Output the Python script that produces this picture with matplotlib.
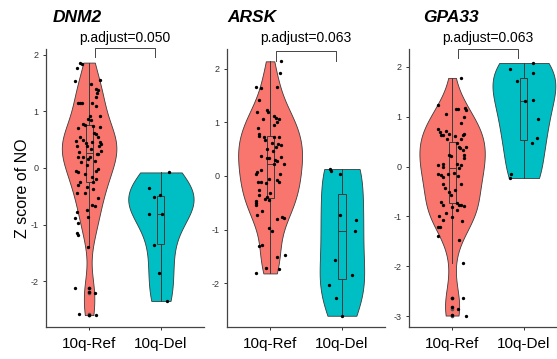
import numpy as np
import matplotlib
matplotlib.use("Agg")
import matplotlib.pyplot as plt

plt.rcParams["font.family"] = ["Liberation Sans", "DejaVu Sans"]
plt.rcParams["axes.unicode_minus"] = False

# ---------------------------------------------------------------------------
# Data
# ---------------------------------------------------------------------------

GENES = ["DNM2", "ARSK", "GPA33"]
GROUPS = ["10q-Ref", "10q-Del"]
P_ADJUST = ["0.050", "0.063", "0.063"]
COLORS = ["#F8766D", "#00BFC4"]

# z scores and the horizontal jitter of each dot (category units)
DNM2_REF_Y = [1.86, 1.84, 1.76, 1.53, 1.56, 1.49, 1.39, 1.38, 1.32, 1.25,
              1.15, 1.15, 1.15, 1.15, 1.09, 0.91, 0.91, 0.86, 0.78, 0.76,
              0.74, 0.72, 0.60, 0.54, 0.46, 0.44, 0.45, 0.42, 0.39, 0.38,
              0.38, 0.28, 0.25, 0.19, 0.20, 0.19, 0.13, 0.05, -0.05, -0.07,
              -0.06, -0.11, -0.16, -0.25, -0.25, -0.30, -0.34, -0.44, -0.45,
              -0.53, -0.65, -0.68, -0.75, -0.78, -0.88, -0.87, -0.98, -1.15,
              -1.18, -1.40, -2.13, -2.12, -2.19, -2.21, -2.58, -2.60, -2.60,
              0.62, 0.50, 0.33, 0.10, -0.02, 0.70, 0.30, -0.20, 0.15, 0.55,
              0.85, -0.38, 0.48, 0.24]
DNM2_REF_JIT = [-0.13, -0.10, -0.17, -0.19, 0.15, 0.03, 0.10, 0.13, 0.11, 0.10,
                -0.16, -0.13, -0.10, 0.04, 0.10, 0.01, 0.15, -0.01, -0.08, -0.06,
                0.06, 0.15, 0.10, -0.12, 0.04, -0.05, 0.15, 0.16, 0.14, -0.17,
                -0.03, -0.14, 0.13, -0.15, -0.08, 0.01, 0.08, -0.03, -0.18, -0.16,
                0.10, -0.06, 0.04, -0.13, 0.06, -0.16, -0.03, -0.06, -0.17,
                0.13, 0.04, 0.08, -0.03, -0.17, -0.19, -0.02, -0.15, -0.17,
                -0.15, -0.02, -0.19, 0.00, 0.00, 0.08, -0.14, 0.00, 0.10,
                0.07, -0.09, 0.02, -0.11, 0.12, -0.15, 0.17, 0.09, -0.02, 0.12,
                0.03, 0.06, -0.18, 0.11]
DNM2_DEL_Y = [-0.08, -0.35, -0.52, -0.48, -0.82, -0.81, -1.36, -1.86, -2.35]
DNM2_DEL_JIT = [0.11, -0.17, -0.09, -0.01, 0.01, -0.16, -0.09, -0.03, 0.08]

ARSK_REF_Y = [2.14, 1.93, 1.66, 1.65, 1.66, 1.41, 1.24, 1.19, 1.19, 1.07,
              1.11, 1.09, 1.06, 0.95, 1.00, 0.89, 0.78, 0.75, 0.72, 0.67,
              0.73, 0.72, 0.61, 0.59, 0.57, 0.54, 0.51, 0.46, 0.37, 0.33,
              0.33, 0.29, 0.27, 0.36, 0.22, 0.23, 0.07, 0.04, 0.11, 0.04,
              -0.12, -0.12, -0.14, -0.06, -0.08, -0.12, -0.27, -0.35, -0.32,
              -0.43, -0.39, -0.46, -0.50, -0.55, -0.44, -0.66, -0.72, -0.81,
              -0.76, -0.78, -0.97, -1.03, -1.30, -1.28, -1.47, -1.52, -1.72,
              -1.82, -1.74]
ARSK_REF_JIT = [0.15, 0.14, -0.19, -0.12, 0.09, -0.16, -0.05, -0.03, -0.18, -0.10,
                0.06, 0.08, 0.12, 0.06, 0.09, -0.17, -0.15, -0.16, -0.09, -0.07,
                0.05, 0.12, 0.02, 0.11, 0.15, 0.08, -0.05, 0.04, -0.12, -0.04,
                -0.02, 0.07, 0.09, 0.15, 0.06, 0.19, -0.18, -0.19, -0.12, 0.14,
                -0.17, -0.13, -0.06, -0.01, 0.09, 0.13, -0.16, -0.15, 0.00,
                -0.07, -0.05, -0.19, -0.19, -0.19, -0.02, -0.11, -0.18, 0.09,
                0.17, 0.19, -0.02, 0.03, -0.15, -0.11, 0.21, 0.09, -0.06,
                -0.19, 0.12]
ARSK_DEL_Y = [0.13, 0.09, 0.04, -0.72, -0.82, -1.02, -1.57, -1.84, -2.03,
              -2.28, -2.61]
ARSK_DEL_JIT = [-0.16, -0.15, -0.03, -0.03, 0.19, 0.18, -0.10, 0.14, -0.18,
                -0.08, 0.00]

GPA33_REF_Y = [1.78, 1.23, 1.15, 1.15, 1.17, 1.13, 1.05, 0.99, 0.88, 0.75,
               0.70, 0.71, 0.63, 0.63, 0.65, 0.63, 0.66, 0.61, 0.55, 0.56,
               0.47, 0.39, 0.40, 0.38, 0.33, 0.23, 0.18, 0.23, 0.21, 0.05,
               0.03, 0.00, 0.05, -0.02, 0.03, -0.12, -0.15, -0.17, -0.21,
               -0.15, -0.19, -0.34, -0.35, -0.42, -0.47, -0.52, -0.57, -0.72,
               -0.77, -0.74, -0.77, -0.77, -0.80, -0.82, -0.93, -0.87, -0.99,
               -1.02, -1.07, -1.10, -1.22, -1.22, -1.39, -1.47, -1.94, -2.64,
               -2.64, -2.82, -2.85, -2.97, -2.99]
GPA33_REF_JIT = [0.13, -0.19, 0.05, 0.08, 0.18, 0.19, -0.08, 0.17, 0.12, -0.19,
                 -0.17, -0.09, -0.16, -0.13, -0.05, 0.15, 0.17, 0.04, -0.07, 0.13,
                 0.07, 0.19, 0.09, 0.11, 0.15, 0.17, 0.16, -0.05, -0.01, -0.12,
                 -0.19, -0.13, 0.07, 0.10, 0.13, 0.02, -0.19, -0.15, -0.13,
                 -0.06, 0.08, 0.13, -0.12, -0.10, 0.04, -0.04, -0.02, -0.16,
                 -0.13, 0.07, 0.10, 0.12, 0.17, 0.00, -0.08, 0.07, -0.18,
                 0.00, -0.12, 0.14, -0.19, -0.17, -0.19, 0.10, 0.15, 0.15,
                 0.00, 0.00, 0.08, 0.00, 0.19]
GPA33_DEL_Y = [1.95, 2.08, 1.88, 1.71, 1.31, 1.33, 0.96, 0.57, 0.48, -0.14, -0.23]
GPA33_DEL_JIT = [-0.19, 0.13, 0.12, -0.10, 0.02, 0.12, 0.19, 0.18, 0.11, -0.18, -0.19]

# box stats: (lower whisker, q1, median, q3, upper whisker)
DNM2_BOX = [(-1.40, -0.25, 0.27, 0.75, 1.86), (-2.35, -1.35, -0.81, -0.50, -0.08)]
ARSK_BOX = [(-1.82, -0.41, 0.22, 0.74, 2.14), (-2.61, -1.93, -1.02, -0.34, 0.13)]
GPA33_BOX = [(-1.94, -0.73, -0.03, 0.50, 1.78), (-0.23, 0.53, 1.31, 1.78, 2.08)]

# bracket (top, foot) heights for the p.adjust annotation
BRACKET_Y = [(2.11, 1.95), (2.34, 2.15), (2.36, 2.18)]

PANELS = [
    dict(gene="DNM2", y=[DNM2_REF_Y, DNM2_DEL_Y], jit=[DNM2_REF_JIT, DNM2_DEL_JIT],
         box=DNM2_BOX, widths=[0.76, 0.91], ylim=(-2.81, 2.10), ticks=[-2, -1, 0, 1, 2]),
    dict(gene="ARSK", y=[ARSK_REF_Y, ARSK_DEL_Y], jit=[ARSK_REF_JIT, ARSK_DEL_JIT],
         box=ARSK_BOX, widths=[0.89, 0.62], ylim=(-2.82, 2.37), ticks=[-2, -1, 0, 1, 2]),
    dict(gene="GPA33", y=[GPA33_REF_Y, GPA33_DEL_Y], jit=[GPA33_REF_JIT, GPA33_DEL_JIT],
         box=GPA33_BOX, widths=[0.91, 0.875], ylim=(-3.22, 2.36), ticks=[-3, -2, -1, 0, 1, 2]),
]

# ---------------------------------------------------------------------------
# Layout (pixels)
# ---------------------------------------------------------------------------

W, H = 557, 359
AX_LEFT = [46, 227, 409]
AX_W, AX_BOTTOM, AX_H = 158, 32, 278
TITLE_X = [53, 227, 423]


def nrd0_factor(values):
    """R's bw.nrd0 expressed as a scipy-style factor of the sample sd."""
    v = np.asarray(values, dtype=float)
    sd = v.std(ddof=1)
    iqr = np.subtract(*np.percentile(v, [75, 25]))
    bw = 0.9 * min(sd, iqr / 1.34) * len(v) ** -0.2
    return bw / sd


fig = plt.figure(figsize=(W / 100, H / 100), dpi=100)

for i, panel in enumerate(PANELS):
    ax = fig.add_axes([AX_LEFT[i] / W, AX_BOTTOM / H, AX_W / W, AX_H / H])

    for g, (vals, jit) in enumerate(zip(panel["y"], panel["jit"])):
        pos = g + 1
        vp = ax.violinplot([vals], positions=[pos], widths=panel["widths"][g],
                           showextrema=False, bw_method=nrd0_factor(vals))
        for body in vp["bodies"]:
            body.set_facecolor(COLORS[g])
            body.set_edgecolor("#3a3a3a")
            body.set_linewidth(0.6)
            body.set_alpha(1)
            body.set_zorder(1)

        lo, q1, med, q3, hi = panel["box"][g]
        fliers = [v for v in vals if v < lo - 1e-9 or v > hi + 1e-9]
        ax.bxp([dict(whislo=lo, q1=q1, med=med, q3=q3, whishi=hi, fliers=fliers)],
               positions=[pos], widths=0.1, showcaps=False, patch_artist=True,
               boxprops=dict(facecolor="none", edgecolor="#3a3a3a", linewidth=0.7),
               medianprops=dict(color="#3a3a3a", linewidth=0.7),
               whiskerprops=dict(color="#3a3a3a", linewidth=0.7),
               flierprops=dict(marker="o", markersize=2.6, markerfacecolor="#555555",
                               markeredgecolor="none"),
               zorder=2)

        ax.plot(pos + np.asarray(jit), vals, "o", color="black", markersize=2.4,
                markeredgewidth=0, zorder=3)

    # significance bracket
    top, foot = BRACKET_Y[i]
    ax.plot([1.08, 1.08, 1.92, 1.92], [foot, top, top, foot], color="#444444",
            linewidth=0.7, clip_on=False, zorder=4)
    ax.annotate(f"p.adjust={P_ADJUST[i]}", xy=(1.5, 1 - 38 / H),
                xycoords=("data", "figure fraction"), ha="center", va="center",
                fontsize=10, annotation_clip=False)

    fig.text(TITLE_X[i] / W, 1 - 17 / H, panel["gene"], ha="left", va="center",
             fontsize=12.5, fontweight="bold", fontstyle="italic")

    ax.set_xlim(0.4, 2.6)
    ax.set_ylim(*panel["ylim"])
    ax.set_xticks([1, 2])
    ax.set_xticklabels(GROUPS, fontsize=11)
    ax.set_yticks(panel["ticks"])
    ax.tick_params(axis="y", labelsize=6.5, length=2.5, width=0.7, colors="#333333",
                   pad=3)
    ax.tick_params(axis="x", labelsize=11, length=2.5, width=0.7, color="#333333",
                   labelcolor="black", pad=5)
    for side in ("top", "right"):
        ax.spines[side].set_visible(False)
    for side in ("left", "bottom"):
        ax.spines[side].set_color("#444444")
        ax.spines[side].set_linewidth(0.9)
    ax.set_facecolor("none")

    if i == 0:
        ax.set_ylabel("Z score of NO", fontsize=11.5, labelpad=0)

fig.savefig("out.png", dpi=100, facecolor="white")
